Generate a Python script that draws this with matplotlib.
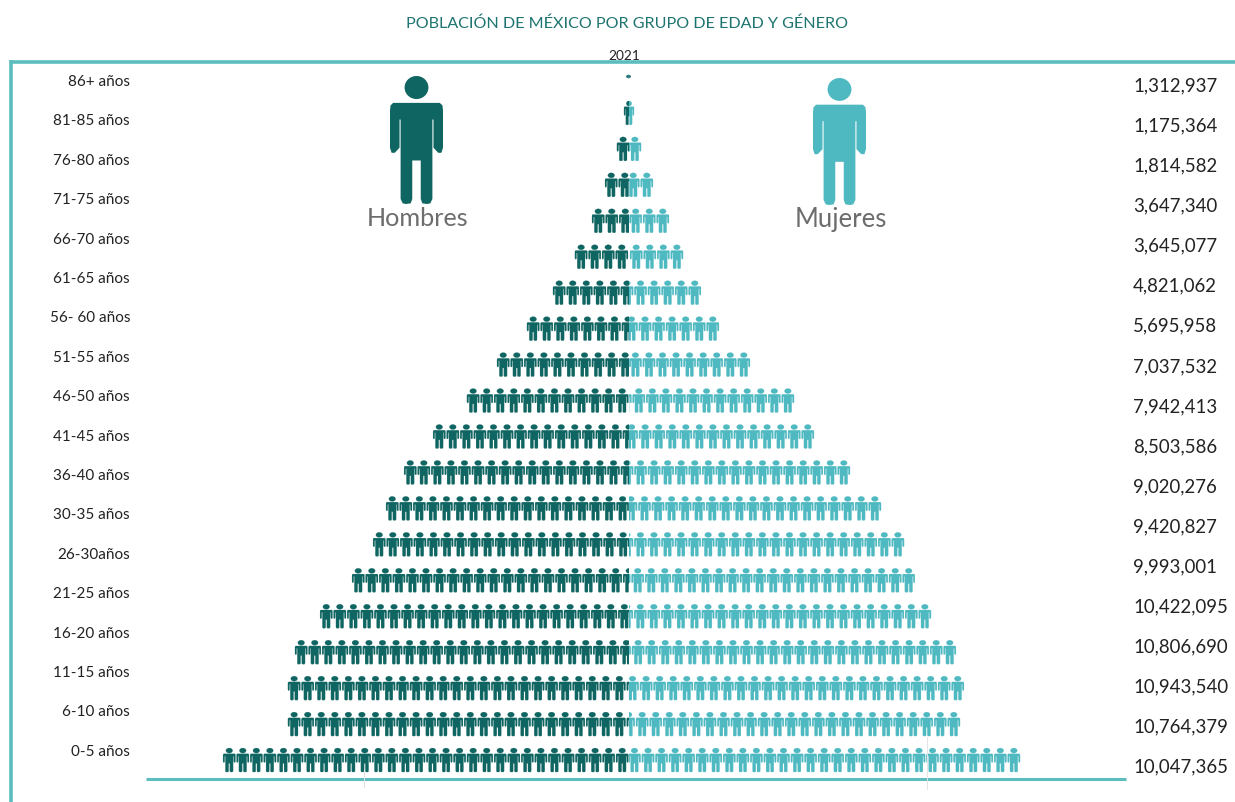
import math
import numpy as np
import matplotlib
matplotlib.use('Agg')
import matplotlib.pyplot as plt
from matplotlib.path import Path
from matplotlib.patches import PathPatch, Rectangle, Ellipse
from matplotlib.transforms import Affine2D

plt.rcParams['font.family'] = ['Lato', 'DejaVu Sans']

title = 'POBLACIÓN DE MÉXICO POR GRUPO DE EDAD Y GÉNERO'
year = '2021'

age_labels = ['86+ años', '81-85 años', '76-80 años', '71-75 años', '66-70 años', '61-65 años',
              '56- 60 años', '51-55 años', '46-50 años', '41-45 años', '36-40 años', '30-35 años',
              '26-30años', '21-25 años', '16-20 años', '11-15 años', '6-10 años', '0-5 años']
totals = ['1,312,937', '1,175,364', '1,814,582', '3,647,340', '3,645,077', '4,821,062',
          '5,695,958', '7,037,532', '7,942,413', '8,503,586', '9,020,276', '9,420,827',
          '9,993,001', '10,422,095', '10,806,690', '10,943,540', '10,764,379', '10,047,365']

# icons per row, top to bottom
men_icons = [0.2, 0.37, 0.89, 1.77, 2.73, 3.99, 5.61, 7.53, 9.74, 11.96,
             14.46, 16.6, 17.93, 18.89, 20.44, 22.8, 24.65, 25.17, 25.17, 29.96]
women_icons = [0.2, 0.37, 0.89, 1.77, 2.95, 3.99, 5.31, 6.64, 8.93, 12.18,
               13.65, 16.31, 18.6, 20.3, 21.1, 22.29, 24.13, 24.72, 24.43, 28.86]

dark = '#0f6561'
light = '#4fb9c1'
frame = '#5dbcbd'
text_colour = '#222222'

centre = 629
pitch = 13.55
icon_w = 12.4
icon_h = 24


def person(head_rx, head_ry, body_top, arm_in, torso, leg_in, crotch):
    # unit figure, x from -0.5 to 0.5, y from 0 (head) to 1 (feet)
    head = Path.circle((0, 0), 1).transformed(Affine2D().scale(head_rx, head_ry).translate(0, head_ry))
    half = [(0.0, body_top), (0.44, body_top), (0.49, body_top + 0.02), (0.5, body_top + 0.06),
            (0.5, 0.56), (0.47, 0.6), (0.41, 0.6), (arm_in, 0.56), (arm_in, 0.34), (torso, 0.34),
            (torso, 0.96), (torso - 0.04, 0.995), (torso - 0.1, 1.0),
            (leg_in + 0.03, 0.995), (leg_in, 0.96), (leg_in, crotch), (0.0, crotch)]
    left = [(-x, y) for x, y in reversed(half[1:-1])]
    body = Path(half + left + [half[0]], closed=True)
    return Path.make_compound_path(head, body)


big_person = person(0.225, 0.09, 0.21, 0.32, 0.3, 0.08, 0.66)
small_person = person(0.27, 0.105, 0.24, 0.37, 0.31, 0.05, 0.64)


def icon(shape, cx, top, w, h):
    return shape.transformed(Affine2D().scale(w, h).translate(cx, top))


fig = plt.figure(figsize=(12.35, 8.03), dpi=100)
ax = fig.add_axes([0, 0, 1, 1])
ax.set_xlim(0, 1235)
ax.set_ylim(803, 0)
ax.axis('off')

# frame and base line
ax.plot([11, 1235], [62.5, 62.5], color=frame, lw=2.6, solid_capstyle='butt')
ax.plot([11, 11], [61, 803], color=frame, lw=2.6, solid_capstyle='butt')
ax.plot([146, 1126], [780, 780], color=frame, lw=2.2, solid_capstyle='butt')
ax.plot([364, 364], [770, 788], color='#e4e4e4', lw=0.7)
ax.plot([927, 927], [738, 790], color='#e4e4e4', lw=0.7)

ax.text(627, 23.5, title, ha='center', va='center', fontsize=11.6, color='#1e7470')
ax.text(624.5, 56, year, ha='center', va='center', fontsize=9.8, color=text_colour)

for i, lab in enumerate(age_labels):
    ax.text(130, 82 + i * 39.4, lab, ha='right', va='center', fontsize=11, color=text_colour)
for i, val in enumerate(totals):
    ax.text(1133, 86 + i * 40.06, val, ha='left', va='center', fontsize=13.4, color=text_colour)

# pictogram rows
for i, (nm, nw) in enumerate(zip(men_icons, women_icons)):
    yc = 78 + i * 35.95
    top = yc - icon_h / 2
    if nm < 0.25:
        ax.add_patch(Ellipse((centre - 0.5, yc - 0.5), 5, 3.5, color='#2f7d82', lw=0))
        continue
    for n, colour, sign in ((nm, dark, -1), (nw, light, 1)):
        if n < 0.5:
            paths = [icon(small_person, centre, top, 2 * n * pitch, icon_h)]
        else:
            outer = centre + sign * n * pitch
            paths = [icon(small_person, outer - sign * (icon_w / 2 + k * pitch), top, icon_w, icon_h)
                     for k in range(math.ceil(n))]
        patch = PathPatch(Path.make_compound_path(*paths), facecolor=colour, edgecolor=colour, lw=0.15)
        ax.add_patch(patch)
        x0 = centre - 40 * pitch if sign < 0 else centre
        clip = Rectangle((x0, top - 2), 40 * pitch, icon_h + 4, transform=ax.transData)
        patch.set_clip_path(clip)

# big icons and their names
ax.add_patch(PathPatch(icon(big_person, 416.5, 77, 53, 128), facecolor=dark, edgecolor='none'))
ax.add_patch(PathPatch(icon(big_person, 839.5, 79, 53, 127), facecolor=light, edgecolor='none'))
ax.text(417.5, 219, 'Hombres', ha='center', va='center', fontsize=18.2, color='#6d6d6d')
ax.text(840.5, 219, 'Mujeres', ha='center', va='center', fontsize=18.5, color='#6d6d6d')

fig.savefig('out.png', dpi=100)
